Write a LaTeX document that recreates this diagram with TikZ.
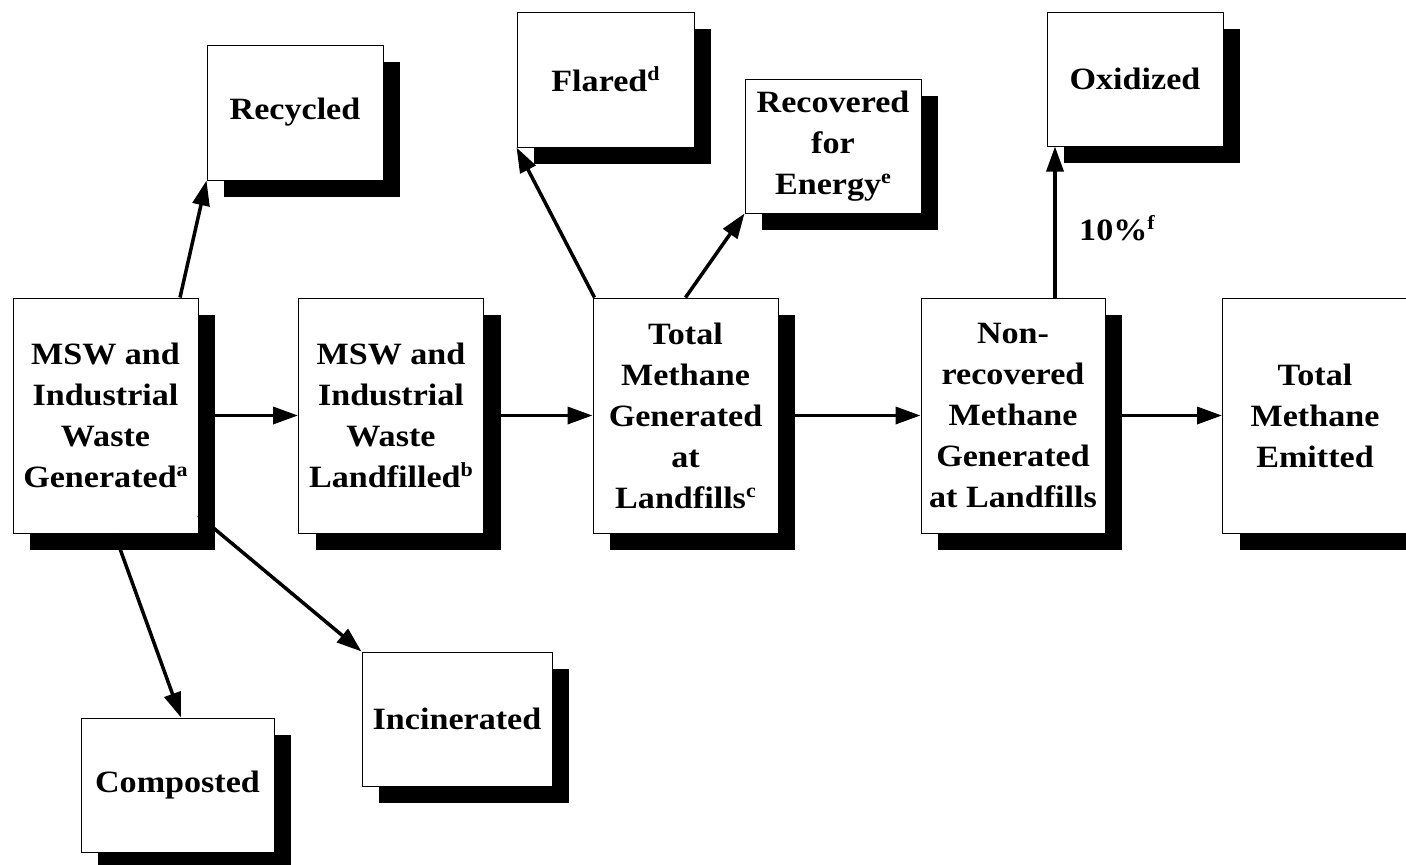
\documentclass[tikz,border=0pt]{standalone}
\usepackage{fontspec}
\setmainfont{Liberation Serif}[FakeStretch=1.1]
\usetikzlibrary{arrows.meta,shadows}
\newcommand\supx[1]{\raisebox{11pt}{\fontsize{20}{20}\selectfont #1}}
\begin{document}
\begin{tikzpicture}[x=1pt,y=-1pt,
  box/.style={draw=black,line width=1pt,fill=white,align=center,inner sep=0pt,
    font=\bfseries\fontsize{31}{41}\selectfont,
    drop shadow={shadow xshift=17pt,shadow yshift=-17pt,fill=black,opacity=1}},
  bigbox/.style={box,minimum width=185pt,minimum height=235pt},
  smallbox/.style={box,minimum width=176pt,minimum height=134pt},
  arr/.style={line width=3.5pt,-{Triangle[length=25pt,width=17pt]}},
  lbl/.style={font=\bfseries\fontsize{31}{41}\selectfont,inner sep=0pt}]
\useasboundingbox (0,0) rectangle (1406,865);
\fill[white] (0,0) rectangle (1406,865);
\clip (0,0) rectangle (1406,865);

% main row
\node[bigbox] (msw) at (105.5,415.5) {MSW and\\Industrial\\Waste\\Generated\supx{a}};
\node[bigbox] (land) at (391,415.5) {MSW and\\Industrial\\Waste\\Landfilled\supx{b}};
\node[bigbox] (tmg) at (685.5,415.5) {Total\\Methane\\Generated\\at\\Landfills\supx{c}};
\node[bigbox,minimum width=184pt] (nonrec) at (1013,415.5) {Non-\\recovered\\Methane\\Generated\\at Landfills};
\node[bigbox] (tme) at (1315,415.5) {Total\\Methane\\Emitted};

% side boxes
\node[smallbox,minimum height=135pt] (recy) at (295,112.5) {Recycled};
\node[smallbox,minimum width=177pt,minimum height=135pt] (flar) at (605.5,79.5) {Flared\supx{d}};
\node[smallbox] (reco) at (833,146) {Recovered\\for\\Energy\supx{e}};
\node[smallbox] (oxid) at (1135,79) {Oxidized};
\node[smallbox,minimum width=193pt] (comp) at (177.5,785) {Composted};
\node[smallbox,minimum width=190pt] (inci) at (457,719) {Incinerated};

% horizontal arrows
\draw[arr] (msw.east) -- (land.west);
\draw[arr] (land.east) -- (tmg.west);
\draw[arr] (tmg.east) -- (nonrec.west);
\draw[arr] (nonrec.east) -- (tme.west);

% branch arrows
\draw[arr] ([xshift=74.5pt]msw.north) -- (recy.south west);
\draw[arr] ([xshift=9pt]msw.south) -- ([xshift=3.5pt]comp.north);
\draw[arr] ([yshift=-100pt]msw.east) -- (inci.north west);
\draw[arr] ([xshift=2pt]tmg.north west) -- (flar.south west);
\draw[arr] (tmg.north) -- (reco.south west);
\coordinate (oxs) at ([xshift=42pt]nonrec.north);
\draw[arr] (oxs) -- (oxs |- oxid.south);

\node[lbl,anchor=base west] (pct) at (1079,240) {10\%\supx{f}};
\end{tikzpicture}
\end{document}
